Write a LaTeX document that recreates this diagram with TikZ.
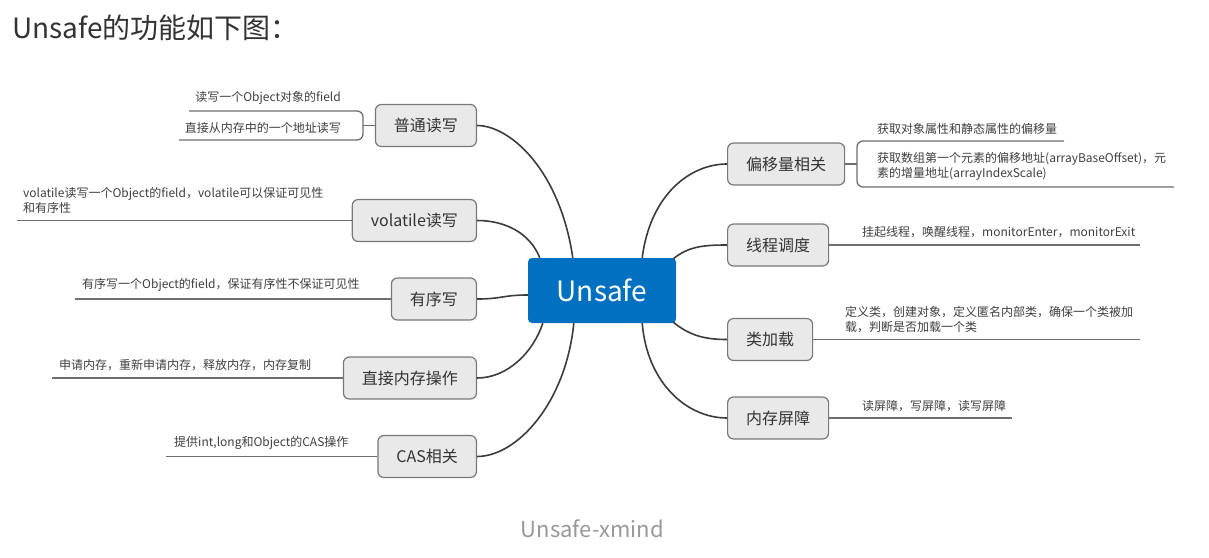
\documentclass[tikz,border=0pt]{standalone}
\usepackage{fontspec}
\setmainfont{Noto Sans CJK SC}
\usetikzlibrary{calc}
\definecolor{UnsafeBlue}{RGB}{0,112,192}
\definecolor{TopicFill}{RGB}{233,233,233}
\definecolor{TopicDraw}{RGB}{120,120,120}
\definecolor{BranchGray}{RGB}{60,60,60}
\definecolor{LeafGray}{RGB}{110,110,110}
\definecolor{TopicText}{RGB}{51,51,51}
\definecolor{LeafText}{RGB}{64,64,64}
\definecolor{CaptionGray}{RGB}{153,153,153}
\begin{document}
\begin{tikzpicture}[x=1pt, y=-1pt,
	topic/.style={draw=TopicDraw, fill=TopicFill, line width=1.2pt, rounded corners=6pt, minimum height=42pt, inner xsep=18.5pt, font=\fontsize{16}{18}\selectfont, text=TopicText},
	leaf/.style={font=\fontsize{12}{15}\selectfont, text=LeafText, inner sep=0pt, align=left},
	branch/.style={draw=BranchGray, line width=1.6pt},
	leafline/.style={draw=LeafGray, line width=1.3pt}]
		
		\fill[white] (0,0) rectangle (1209,557);
		\useasboundingbox (0,0) rectangle (1209,557);
		
		%Title
		\node (Title) at (12,38) [anchor=base west, inner sep=0pt, font=\fontsize{28}{32}\selectfont, text=TopicText]{Unsafe的功能如下图：};
		\node (Caption) at (592.5,537) [anchor=base, inner sep=0pt, font=\fontsize{22}{26}\selectfont, text=CaptionGray]{Unsafe-xmind};
		
		%Blocks
		\node (Unsafe) at (602,290.5) [fill=UnsafeBlue, rounded corners=4pt, minimum width=148pt, minimum height=65pt, text=white, font=\fontsize{28}{30}\selectfont]{Unsafe};
		\node (NormalRW) at (477,125.5) [topic, anchor=east]{普通读写};
		\node (VolatileRW) at (477,220.5) [topic, anchor=east]{volatile读写};
		\node (OrderedWrite) at (477,299) [topic, anchor=east]{有序写};
		\node (DirectMemory) at (477,378) [topic, anchor=east]{直接内存操作};
		\node (CasOps) at (477,456.5) [topic, anchor=east]{CAS相关};
		\node (OffsetInfo) at (727,164) [topic, anchor=west]{偏移量相关};
		\node (ThreadSched) at (727,245) [topic, anchor=west]{线程调度};
		\node (ClassLoad) at (727,339.5) [topic, anchor=west]{类加载};
		\node (MemBarrier) at (727,418) [topic, anchor=west]{内存屏障};
		
		%Links
		\draw[branch] ($(Unsafe.north west)+(45,0)$) .. controls +(-13,-88) and +(33,0) .. (NormalRW.east);
		\draw[branch] ($(Unsafe.north west)+(12,0)$) .. controls +(-10,-25) and +(28,0) .. (VolatileRW.east);
		\draw[branch] ($(Unsafe.west)+(0,4.5)$) .. controls +(-25,0) and +(25,0) .. (OrderedWrite.east);
		\draw[branch] ($(Unsafe.south west)+(15,0)$) .. controls +(-10,30) and +(30,0) .. (DirectMemory.east);
		\draw[branch] ($(Unsafe.south west)+(46,0)$) .. controls +(-8,80) and +(40,0) .. (CasOps.east);
		\draw[branch] ($(Unsafe.north east)+(-34,0)$) .. controls +(8,-63) and +(-37,0) .. (OffsetInfo.west);
		\draw[branch] ($(Unsafe.north east)+(-3,1)$) .. controls +(15,-12) and +(-25,0) .. (ThreadSched.west);
		\draw[branch] ($(Unsafe.south east)+(-3,-1)$) .. controls +(15,12) and +(-25,0) .. (ClassLoad.west);
		\draw[branch] ($(Unsafe.south east)+(-34,0)$) .. controls +(5,60) and +(-40,0) .. (MemBarrier.west);
		
		%Leaves
		\coordinate (NormalFork) at (363,125.5);
		\coordinate (NormalEndA) at (189,111);
		\coordinate (NormalEndB) at (179,140);
		\coordinate (VolatileEnd) at (17,220);
		\coordinate (OrderedEnd) at (75,298);
		\coordinate (DirectEnd) at (52,377);
		\coordinate (CasEnd) at (166,456);
		\coordinate (OffsetFork) at (857,164);
		\coordinate (OffsetEndA) at (1064,141);
		\coordinate (OffsetEndB) at (1174,187);
		\coordinate (ThreadEnd) at (1140,245);
		\coordinate (ClassEnd) at (1140,339);
		\coordinate (BarrierEnd) at (1012,418);
		
		\node (NormalLeafA) at (341,105) [leaf, anchor=south east]{读写一个Object对象的field};
		\node (NormalLeafB) at (341,134) [leaf, anchor=south east]{直接从内存中的一个地址读写};
		\node (VolatileLeaf) at (23,214) [leaf, anchor=south west]{volatile读写一个Object的field，volatile可以保证可见性\\和有序性};
		\node (OrderedLeaf) at (82,292) [leaf, anchor=south west]{有序写一个Object的field，保证有序性不保证可见性};
		\node (DirectLeaf) at (59,371) [leaf, anchor=south west]{申请内存，重新申请内存，释放内存，内存复制};
		\node (CasLeaf) at (174,450) [leaf, anchor=south west]{提供int,long和Object的CAS操作};
		\node (OffsetLeafA) at (877,135) [leaf, anchor=south west]{获取对象属性和静态属性的偏移量};
		\node (OffsetLeafB) at (877,181) [leaf, anchor=south west]{获取数组第一个元素的偏移地址(arrayBaseOffset)，元\\素的增量地址(arrayIndexScale)};
		\node (ThreadLeaf) at (862,238) [leaf, anchor=south west]{挂起线程，唤醒线程，monitorEnter，monitorExit};
		\node (ClassLeaf) at (845,333) [leaf, anchor=south west]{定义类，创建对象，定义匿名内部类，确保一个类被加\\载，判断是否加载一个类};
		\node (BarrierLeaf) at (862,412) [leaf, anchor=south west]{读屏障，写屏障，读写屏障};
		
		\draw[leafline] (NormalRW.west) -- (NormalFork);
		\draw[leafline, rounded corners=6pt] (NormalEndA) -- (NormalEndA -| NormalFork) -- (NormalEndB -| NormalFork) -- (NormalEndB);
		\draw[leafline] (VolatileRW.west) -- (VolatileRW.west -| VolatileEnd);
		\draw[leafline] (OrderedWrite.west) -- (OrderedWrite.west -| OrderedEnd);
		\draw[leafline] (DirectMemory.west) -- (DirectMemory.west -| DirectEnd);
		\draw[leafline] (CasOps.west) -- (CasOps.west -| CasEnd);
		\draw[leafline] (OffsetInfo.east) -- (OffsetFork);
		\draw[leafline, rounded corners=6pt] (OffsetEndA) -- (OffsetEndA -| OffsetFork) -- (OffsetEndB -| OffsetFork) -- (OffsetEndB);
		\draw[leafline] (ThreadSched.east) -- (ThreadSched.east -| ThreadEnd);
		\draw[leafline] (ClassLoad.east) -- (ClassLoad.east -| ClassEnd);
		\draw[leafline] (MemBarrier.east) -- (MemBarrier.east -| BarrierEnd);
		
\end{tikzpicture}
\end{document}
